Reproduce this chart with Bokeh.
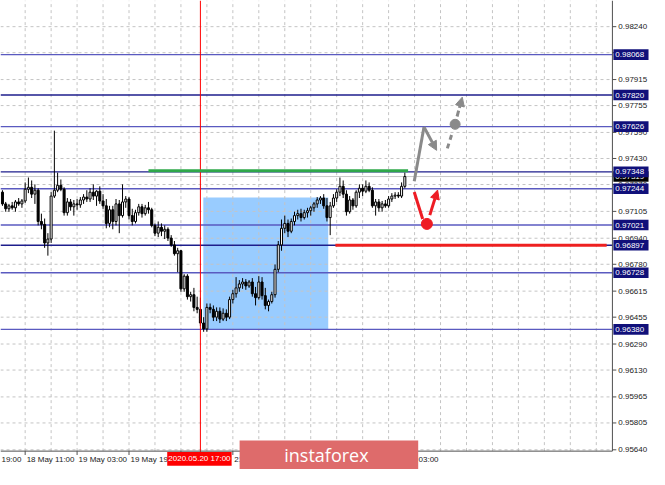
from bokeh.plotting import figure
from bokeh.models import Arrow, NormalHead, Range1d, ColumnDataSource
from bokeh.core.properties import value
from bokeh.embed import file_html
from bokeh.resources import INLINE

# ---------------- data ----------------
opens = [0.97223, 0.97151, 0.97121, 0.97139, 0.97127, 0.97163, 0.97151, 0.97169, 0.97241, 0.97253,
         0.97211, 0.97235, 0.97043, 0.97025, 0.96911, 0.96935, 0.97199, 0.97235, 0.97265, 0.97241,
         0.97097, 0.97163, 0.97133, 0.97151, 0.97145, 0.97175, 0.97193, 0.97181, 0.97223, 0.97199,
         0.97229, 0.97169, 0.97139, 0.97031, 0.97115, 0.97043, 0.97151, 0.97079, 0.97163, 0.97181,
         0.97079, 0.97043, 0.97097, 0.97133, 0.97091, 0.97127, 0.97115, 0.97019, 0.96971, 0.97007,
         0.96983, 0.96995, 0.96941, 0.96899, 0.96845, 0.96863, 0.96629, 0.96707, 0.96581, 0.96593,
         0.96515, 0.96503, 0.96419, 0.96383, 0.96515, 0.96503, 0.96455, 0.96491, 0.96443, 0.96479,
         0.96455, 0.96563, 0.96599, 0.96635, 0.96659, 0.96671, 0.96647, 0.96671, 0.96599, 0.96575,
         0.96671, 0.96587, 0.96527, 0.96551, 0.96593, 0.96749, 0.96899, 0.97001, 0.97031, 0.96983,
         0.97043, 0.97079, 0.97091, 0.97067, 0.97097, 0.97109, 0.97127, 0.97151, 0.97175, 0.97187,
         0.97139, 0.97067, 0.97139, 0.97187, 0.97223, 0.97259, 0.97211, 0.97103, 0.97175, 0.97139,
         0.97223, 0.97247, 0.97229, 0.97259, 0.97235, 0.97139, 0.97163, 0.97127, 0.97151, 0.97139,
         0.97181, 0.97199, 0.97205, 0.97199, 0.97259]
highs = [0.97235, 0.97163, 0.97151, 0.97163, 0.97175, 0.97187, 0.97181, 0.97283, 0.97313, 0.97295,
         0.97271, 0.97247, 0.97091, 0.97061, 0.96971, 0.97223, 0.97601, 0.97343, 0.97301, 0.97253,
         0.97187, 0.97181, 0.97175, 0.97181, 0.97193, 0.97211, 0.97235, 0.97247, 0.97271, 0.97235,
         0.97259, 0.97211, 0.97181, 0.97139, 0.97139, 0.97181, 0.97175, 0.97271, 0.97199, 0.97193,
         0.97121, 0.97115, 0.97151, 0.97151, 0.97145, 0.97163, 0.97127, 0.97031, 0.97043, 0.97031,
         0.97019, 0.97007, 0.96959, 0.96923, 0.96881, 0.96869, 0.96719, 0.96719, 0.96611, 0.96635,
         0.96581, 0.96575, 0.96455, 0.96539, 0.96539, 0.96527, 0.96515, 0.96515, 0.96509, 0.96503,
         0.96581, 0.96623, 0.96701, 0.96683, 0.96695, 0.96689, 0.96683, 0.96695, 0.96641, 0.96707,
         0.96701, 0.96635, 0.96563, 0.96611, 0.96779, 0.96923, 0.97055, 0.97079, 0.97055, 0.97061,
         0.97103, 0.97115, 0.97121, 0.97115, 0.97127, 0.97139, 0.97163, 0.97193, 0.97199, 0.97211,
         0.97187, 0.97163, 0.97211, 0.97241, 0.97313, 0.97295, 0.97235, 0.97199, 0.97187, 0.97235,
         0.97271, 0.97271, 0.97295, 0.97283, 0.97253, 0.97181, 0.97181, 0.97169, 0.97175, 0.97199,
         0.97217, 0.97223, 0.97223, 0.97283, 0.97343]
lows = [0.97139, 0.97103, 0.97103, 0.97115, 0.97103, 0.97139, 0.97127, 0.97157, 0.97217, 0.97187,
        0.97151, 0.97019, 0.96995, 0.96881, 0.96833, 0.96911, 0.97187, 0.97223, 0.97229, 0.97079,
        0.97079, 0.97109, 0.97079, 0.97115, 0.97127, 0.97151, 0.97163, 0.97163, 0.97175, 0.97139,
        0.97151, 0.97121, 0.97001, 0.97007, 0.96995, 0.97019, 0.96971, 0.97067, 0.97127, 0.97055,
        0.97019, 0.97031, 0.97079, 0.97067, 0.97079, 0.97091, 0.97007, 0.96953, 0.96947, 0.96953,
        0.96935, 0.96923, 0.96887, 0.96833, 0.96731, 0.96611, 0.96611, 0.96563, 0.96551, 0.96491,
        0.96479, 0.96401, 0.96365, 0.96365, 0.96479, 0.96431, 0.96431, 0.96419, 0.96431, 0.96431,
        0.96443, 0.96539, 0.96575, 0.96611, 0.96629, 0.96623, 0.96635, 0.96581, 0.96527, 0.96563,
        0.96563, 0.96503, 0.96491, 0.96539, 0.96575, 0.96731, 0.96863, 0.96971, 0.96947, 0.96971,
        0.97019, 0.97055, 0.97043, 0.97055, 0.97067, 0.97079, 0.97103, 0.97127, 0.97151, 0.97121,
        0.97043, 0.96959, 0.97127, 0.97163, 0.97199, 0.97187, 0.97079, 0.97091, 0.97115, 0.97127,
        0.97187, 0.97199, 0.97217, 0.97223, 0.97127, 0.97079, 0.97103, 0.97103, 0.97127, 0.97127,
        0.97163, 0.97181, 0.97187, 0.97187, 0.97247]
closes = [0.97151, 0.97121, 0.97139, 0.97127, 0.97163, 0.97151, 0.97169, 0.97241, 0.97253, 0.97211,
          0.97235, 0.97043, 0.97025, 0.96911, 0.96935, 0.97199, 0.97235, 0.97265, 0.97241, 0.97097,
          0.97163, 0.97133, 0.97151, 0.97145, 0.97175, 0.97193, 0.97181, 0.97223, 0.97199, 0.97229,
          0.97169, 0.97139, 0.97031, 0.97115, 0.97043, 0.97151, 0.97079, 0.97163, 0.97181, 0.97079,
          0.97043, 0.97097, 0.97133, 0.97091, 0.97127, 0.97115, 0.97019, 0.96971, 0.97007, 0.96983,
          0.96995, 0.96941, 0.96899, 0.96845, 0.96863, 0.96629, 0.96707, 0.96581, 0.96593, 0.96515,
          0.96503, 0.96419, 0.96383, 0.96515, 0.96503, 0.96455, 0.96491, 0.96443, 0.96479, 0.96455,
          0.96563, 0.96599, 0.96635, 0.96659, 0.96671, 0.96647, 0.96671, 0.96599, 0.96575, 0.96671,
          0.96587, 0.96527, 0.96551, 0.96593, 0.96749, 0.96899, 0.97001, 0.97031, 0.96983, 0.97043,
          0.97079, 0.97091, 0.97067, 0.97097, 0.97109, 0.97127, 0.97151, 0.97175, 0.97187, 0.97139,
          0.97067, 0.97139, 0.97187, 0.97223, 0.97259, 0.97211, 0.97103, 0.97175, 0.97139, 0.97223,
          0.97247, 0.97229, 0.97259, 0.97235, 0.97139, 0.97163, 0.97127, 0.97151, 0.97139, 0.97181,
          0.97199, 0.97205, 0.97199, 0.97259, 0.97319]

# horizontal support / resistance levels
levels_dark = [0.97820, 0.97348, 0.96897]
levels_light = [0.98068, 0.97626, 0.97244, 0.97021, 0.96728, 0.96380]

# price scale ticks
price_ticks = [0.98240, 0.98080, 0.97915, 0.97755, 0.97590, 0.97430, 0.97270, 0.97105,
               0.96940, 0.96780, 0.96615, 0.96455, 0.96290, 0.96130, 0.95965, 0.95805, 0.95640]

# time scale (bar index -> label)
time_ticks = [-9, 7, 23, 39, 55, 71, 87, 103, 119]
time_labels = ["17 May 19:00", "18 May 11:00", "19 May 03:00", "19 May 19:00", "20 May 11:00",
               "21 May 03:00", "21 May 19:00", "22 May 11:00", "25 May 03:00"]
marked_bar = 61
marked_label = "2020.05.20 17:00"

# rectangle zone
zone_left, zone_right = 61.9, 100.4
zone_top, zone_bottom = 0.97190, 0.96380

# horizontal marks
green_x = [45, 125]
green_y = 0.97354
red_x = [102.6, 186.2]
red_y = 0.96897

# forecast arrows
grey_up_x = [126.9, 129.9]
grey_up_y = [0.97290, 0.97623]
grey_down_end = (133.8, 0.97480)
grey_dash_x = [137.1, 138.6]
grey_dash_y = [0.97492, 0.97587]
grey_dot = (139.5, 0.97640)
grey_up2 = [(140.1, 0.97688), (141.7, 0.97807)]
red_down_x = [126.9, 129.5]
red_down_y = [0.97224, 0.97058]
red_dot = (130.8, 0.97028)
red_up = [(131.7, 0.97082), (134.1, 0.97236)]

# ---------------- layout helpers (chart-window geometry) ----------------
BAR_PX = 3.325          # horizontal pixels per bar in the original window
BAR0_PX = 2.0           # pixel of bar 0
PRICE_PX = 16830.0      # vertical pixels per price unit
REF_PRICE, REF_PY = 0.98068, 56.0


def bx(px):
    return (px - BAR0_PX) / BAR_PX


def py(pix):
    return REF_PRICE - (pix - REF_PY) / PRICE_PX


X_LO, X_HI = bx(0), bx(665)          # whole window
Y_LO, Y_HI = py(485), py(0)
X1 = bx(627)                          # right edge of the price area
Y0 = py(466)                          # bottom edge of the price area
DX = 1.0 / BAR_PX                     # one pixel in bar units
DY = 1.0 / PRICE_PX                   # one pixel in price units

FONT = "Liberation Sans"
p = figure(width=649, height=469, x_range=Range1d(X_LO, X_HI), y_range=Range1d(Y_LO, Y_HI),
           output_backend="svg", toolbar_location=None, min_border=0,
           outline_line_color=None, background_fill_color="white", border_fill_color="white")
p.xaxis.visible = False
p.yaxis.visible = False
p.grid.visible = False

# zone rectangle
p.quad(left=[zone_left], right=[zone_right], top=[zone_top], bottom=[zone_bottom],
       fill_color="#99ccff", line_color=None)

# dashed grid inside the price area
grid_x = [g for g in range(-1, 189, 8) if X_LO < g < X1]
p.segment(x0=grid_x, y0=[Y0] * len(grid_x), x1=grid_x, y1=[Y_HI] * len(grid_x),
          line_color="#c4c4c4", line_width=1, line_dash="3 3")
p.segment(x0=[X_LO] * len(price_ticks), y0=price_ticks, x1=[X1] * len(price_ticks),
          y1=price_ticks, line_color="#c4c4c4", line_width=1, line_dash="3 3")

# bid line
p.segment(x0=[X_LO], y0=[closes[-1]], x1=[X1], y1=[closes[-1]], line_color="#c8c8c8", line_width=1)

# level lines
n_l, n_d = len(levels_light), len(levels_dark)
p.segment(x0=[X_LO] * n_l, y0=levels_light, x1=[X1] * n_l, y1=levels_light,
          line_color="#5a5ac0", line_width=1.4)
p.segment(x0=[X_LO] * n_d, y0=levels_dark, x1=[X1] * n_d, y1=levels_dark,
          line_color="#1e1e8c", line_width=1.4)

# candles
xs = list(range(len(opens)))
src = ColumnDataSource(dict(
    x=xs, high=highs, low=lows,
    top=[max(o, c) for o, c in zip(opens, closes)],
    bottom=[min(o, c) for o, c in zip(opens, closes)],
    fill=["white" if c >= o else "black" for o, c in zip(opens, closes)],
))
p.segment(x0="x", y0="low", x1="x", y1="high", source=src, line_color="black", line_width=1)
p.vbar(x="x", width=0.62, top="top", bottom="bottom", fill_color="fill", line_color="black",
       line_width=1, source=src)

# marked vertical line
p.segment(x0=[marked_bar], y0=[py(468)], x1=[marked_bar], y1=[Y_HI], line_color="#ff0000",
          line_width=1)

# green and red horizontal marks
p.segment(x0=[green_x[0]], y0=[green_y], x1=[green_x[1]], y1=[green_y],
          line_color="#2fa84a", line_width=3)
p.segment(x0=[red_x[0]], y0=[red_y], x1=[red_x[1]], y1=[red_y],
          line_color="#ee2020", line_width=3)

# forecast arrows
GREY = "#8a8a8a"
RED = "#ee1c24"
p.line(grey_up_x, grey_up_y, line_color=GREY, line_width=3)
p.add_layout(Arrow(end=NormalHead(size=9, fill_color=GREY, line_color=GREY),
                   x_start=grey_up_x[1], y_start=grey_up_y[1],
                   x_end=grey_down_end[0], y_end=grey_down_end[1],
                   line_color=GREY, line_width=3))
p.line(grey_dash_x, grey_dash_y, line_color=GREY, line_width=3, line_dash="5 4")
p.scatter([grey_dot[0]], [grey_dot[1]], size=10, color=GREY)
p.add_layout(Arrow(end=NormalHead(size=9, fill_color=GREY, line_color=GREY),
                   x_start=grey_up2[0][0], y_start=grey_up2[0][1],
                   x_end=grey_up2[1][0], y_end=grey_up2[1][1],
                   line_color=GREY, line_width=3, line_dash="6 3"))
p.line(red_down_x, red_down_y, line_color=RED, line_width=3)
p.scatter([red_dot[0]], [red_dot[1]], size=11, color=RED)
p.add_layout(Arrow(end=NormalHead(size=9, fill_color=RED, line_color=RED),
                   x_start=red_up[0][0], y_start=red_up[0][1],
                   x_end=red_up[1][0], y_end=red_up[1][1],
                   line_color=RED, line_width=3))

# ---- price-area frame (axis lines) ----
AXC = "#505050"
p.segment(x0=[X1], y0=[Y0], x1=[X1], y1=[Y_HI], line_color=AXC, line_width=1)
p.segment(x0=[X_LO], y0=[Y0], x1=[X1], y1=[Y0], line_color=AXC, line_width=1)

# price scale: ticks + labels
n_p = len(price_ticks)
p.segment(x0=[X1] * n_p, y0=price_ticks, x1=[X1 + 4 * DX] * n_p, y1=price_ticks,
          line_color=AXC, line_width=1)
p.text(x=[X1 + 6 * DX] * n_p, y=price_ticks, text=[f"{t:.5f}" for t in price_ticks],
       text_font=value(FONT), text_font_size="8px", text_color="#1a1a1a",
       text_align="left", text_baseline="middle")

# time scale: ticks + labels (left-aligned to the tick); a label whose date part runs
# off the left edge only shows its time, as in the original window
vis_ticks = [t for t in time_ticks if t > X_LO]
p.segment(x0=vis_ticks, y0=[Y0] * len(vis_ticks), x1=vis_ticks, y1=[Y0 - 4 * DY] * len(vis_ticks),
          line_color=AXC, line_width=1)
lab_x, lab_t = [], []
for t, lab in zip(time_ticks, time_labels):
    if t > X_LO:
        lab_x.append(t + 1.5 * DX)
        lab_t.append(lab)
    else:
        lab_x.append(X_LO + 1.0 * DX)
        lab_t.append(lab.split(" ")[-1])
p.text(x=lab_x, y=[py(475)] * len(lab_x), text=lab_t,
       text_font=value(FONT), text_font_size="8px", text_color="#1a1a1a",
       text_align="left", text_baseline="middle")

# ---- price tags on the scale ----
TAG_H = 5.5 * DY
p.quad(left=[X1 + DX], right=[bx(664)], top=[closes[-1] + TAG_H], bottom=[closes[-1] - TAG_H],
       fill_color="black", line_color=None)
p.text(x=[X1 + 3 * DX], y=[closes[-1]], text=[f"{closes[-1]:.5f}"], text_font=value(FONT),
       text_font_size="8px", text_color="white", text_align="left", text_baseline="middle")

tag_levels = levels_light + levels_dark
n_tag = len(tag_levels)
p.quad(left=[X1 + DX] * n_tag, right=[bx(664)] * n_tag,
       top=[lv + TAG_H for lv in tag_levels], bottom=[lv - TAG_H for lv in tag_levels],
       fill_color="#10107a", line_color=None)
p.text(x=[X1 + 3 * DX] * n_tag, y=tag_levels, text=[f"{lv:.5f}" for lv in tag_levels],
       text_font=value(FONT), text_font_size="8px", text_color="white",
       text_align="left", text_baseline="middle")

# marked time tag
p.quad(left=[marked_bar - 34 * DX], right=[marked_bar + 32 * DX], top=[py(467)], bottom=[py(481)],
       fill_color="#ff0000", line_color=None)
p.text(x=[marked_bar - DX], y=[py(474)], text=[marked_label], text_font=value(FONT),
       text_font_size="8px", text_color="white", text_align="center", text_baseline="middle")

# watermark
p.quad(left=[bx(245)], right=[bx(428)], top=[py(455)], bottom=[Y_LO],
       fill_color="#de6b6b", line_color=None)
p.text(x=[bx(334)], y=[py(470)], text=["instaforex"], text_font=value("Open Sans"),
       text_font_size="18px", text_color="white", text_align="center", text_baseline="middle")

open("out.html", "w").write(file_html(p, INLINE))
